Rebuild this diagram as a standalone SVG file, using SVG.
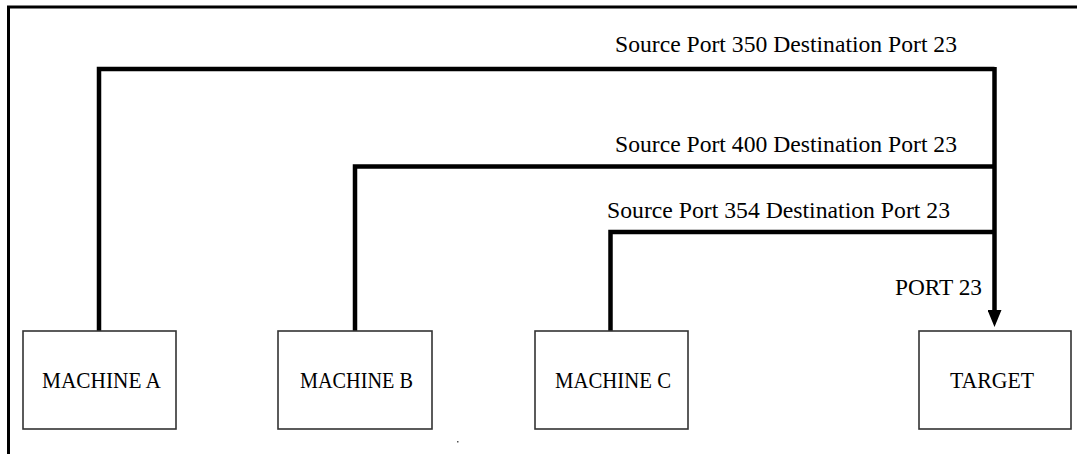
<svg xmlns="http://www.w3.org/2000/svg" width="1077" height="454" viewBox="0 0 1077 454">
<style>
.box{fill:#fff;stroke:#333;stroke-width:1.6}
.lbl{font-family:"Liberation Serif",serif;font-size:24px;fill:#000}
.wire{fill:none;stroke:#000;stroke-width:4.5;stroke-linejoin:miter}
.frame{fill:none;stroke:#000;stroke-width:3}
</style>
<defs>
<marker id="arr" markerUnits="userSpaceOnUse" markerWidth="17" markerHeight="14" refX="0" refY="7" orient="auto">
<path d="M0,0 L17,7 L0,14 Z" fill="#000"/>
</marker>
</defs>
<rect width="1077" height="454" fill="#fff"/>
<g id="frame">
<path class="frame" d="M8.5,454 V7 H1077"/>
</g>
<g id="connectors">
<path class="wire" d="M99,331 V69 H994.5"/>
<path class="wire" d="M355,331 V166.5 H994.5"/>
<path class="wire" d="M610.5,331 V232 H994.5"/>
<path class="wire" d="M994.5,67 V310" stroke-width="5" marker-end="url(#arr)"/>
<text class="lbl" x="615" y="52" textLength="342" lengthAdjust="spacingAndGlyphs">Source Port 350 Destination Port 23</text>
<text class="lbl" x="615" y="152" textLength="342" lengthAdjust="spacingAndGlyphs">Source Port 400 Destination Port 23</text>
<text class="lbl" x="607" y="218" textLength="343" lengthAdjust="spacingAndGlyphs">Source Port 354 Destination Port 23</text>
<text class="lbl" x="895" y="295" textLength="87" lengthAdjust="spacingAndGlyphs">PORT 23</text>
</g>
<g id="machine-a">
<rect class="box" x="23" y="331" width="153" height="98"/>
<text class="lbl" x="42" y="388" textLength="119" lengthAdjust="spacingAndGlyphs">MACHINE A</text>
</g>
<g id="machine-b">
<rect class="box" x="278" y="331" width="154" height="98"/>
<text class="lbl" x="300" y="388" textLength="113" lengthAdjust="spacingAndGlyphs">MACHINE B</text>
</g>
<g id="machine-c">
<rect class="box" x="535" y="331" width="153" height="98"/>
<text class="lbl" x="555" y="388" textLength="116" lengthAdjust="spacingAndGlyphs">MACHINE C</text>
</g>
<g id="target">
<rect class="box" x="919" y="331" width="152" height="98"/>
<text class="lbl" x="950" y="388" textLength="84" lengthAdjust="spacingAndGlyphs">TARGET</text>
</g>
<rect x="457" y="441" width="1.5" height="1.5" fill="#555"/>
</svg>
